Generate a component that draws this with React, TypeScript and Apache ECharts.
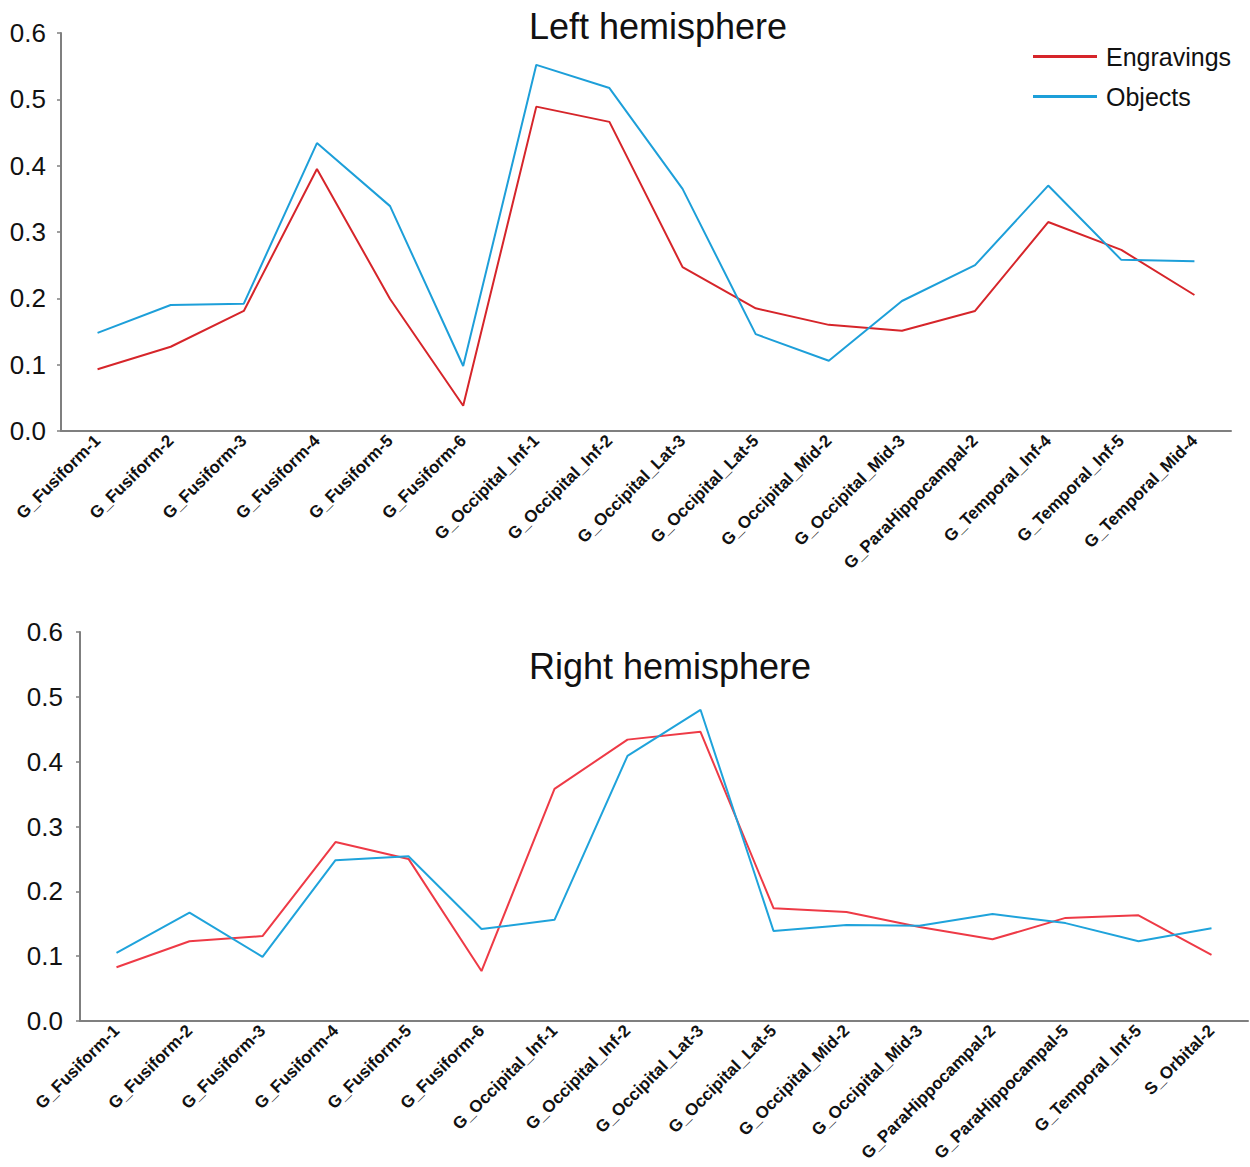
import React, { useEffect, useRef } from "react";
import * as echarts from "echarts";

const leftCategories = [
  "G_Fusiform-1", "G_Fusiform-2", "G_Fusiform-3", "G_Fusiform-4", "G_Fusiform-5", "G_Fusiform-6",
  "G_Occipital_Inf-1", "G_Occipital_Inf-2", "G_Occipital_Lat-3", "G_Occipital_Lat-5",
  "G_Occipital_Mid-2", "G_Occipital_Mid-3", "G_ParaHippocampal-2", "G_Temporal_Inf-4",
  "G_Temporal_Inf-5", "G_Temporal_Mid-4",
];
const leftEngravings = [0.093, 0.127, 0.181, 0.395, 0.199, 0.038, 0.489, 0.466, 0.247, 0.185, 0.16, 0.151, 0.181, 0.315, 0.273, 0.205];
const leftObjects = [0.148, 0.19, 0.192, 0.434, 0.339, 0.098, 0.552, 0.517, 0.365, 0.146, 0.106, 0.196, 0.25, 0.37, 0.258, 0.256];

const rightCategories = [
  "G_Fusiform-1", "G_Fusiform-2", "G_Fusiform-3", "G_Fusiform-4", "G_Fusiform-5", "G_Fusiform-6",
  "G_Occipital_Inf-1", "G_Occipital_Inf-2", "G_Occipital_Lat-3", "G_Occipital_Lat-5",
  "G_Occipital_Mid-2", "G_Occipital_Mid-3", "G_ParaHippocampal-2", "G_ParaHippocampal-5",
  "G_Temporal_Inf-5", "S_Orbital-2",
];
const rightEngravings = [0.083, 0.123, 0.131, 0.276, 0.25, 0.077, 0.358, 0.434, 0.446, 0.174, 0.168, 0.145, 0.126, 0.159, 0.163, 0.102];
const rightObjects = [0.105, 0.167, 0.099, 0.248, 0.254, 0.142, 0.156, 0.409, 0.48, 0.139, 0.148, 0.147, 0.165, 0.151, 0.123, 0.143];

const FONT = "'Liberation Sans', Arial, sans-serif";
const RED_TOP = "#d6252a";
const BLUE_TOP = "#1d9fd9";
const RED_BOTTOM = "#ee3a46";
const BLUE_BOTTOM = "#1fa3db";

function xAxis(gridIndex: number, data: string[]) {
  return {
    type: "category",
    gridIndex,
    data,
    boundaryGap: true,
    axisLine: { show: true, lineStyle: { color: "#7f7f7f", width: 2 } },
    axisTick: { show: false },
    splitLine: { show: false },
    axisLabel: {
      interval: 0,
      rotate: 45,
      margin: 7,
      fontSize: 17,
      fontWeight: "bold",
      color: "#111",
      fontFamily: FONT,
    },
  };
}

function yAxis(gridIndex: number, margin: number) {
  return {
    type: "value",
    gridIndex,
    min: 0,
    max: 0.6,
    interval: 0.1,
    axisLine: { show: true, lineStyle: { color: "#7f7f7f", width: 2 } },
    axisTick: { show: true, length: 4, lineStyle: { color: "#7f7f7f", width: 1.5 } },
    splitLine: { show: false },
    axisLabel: {
      margin,
      fontSize: 26,
      color: "#111",
      fontFamily: FONT,
      formatter: (v: number) => v.toFixed(1),
    },
  };
}

export default function App() {
  const ref = useRef<HTMLDivElement>(null);
  useEffect(() => {
    if (!ref.current) return;
    const chart = echarts.init(ref.current, undefined, { renderer: "svg" });
    chart.setOption({
      animation: false,
      backgroundColor: "#ffffff",
      textStyle: { fontFamily: FONT },
      grid: [
        { left: 61, top: 33, width: 1170, height: 398, containLabel: false },
        { left: 80, top: 632, width: 1168, height: 389, containLabel: false },
      ],
      xAxis: [xAxis(0, leftCategories), xAxis(1, rightCategories)],
      yAxis: [yAxis(0, 15), yAxis(1, 17)],
      legend: {
        data: ["Engravings", "Objects"],
        orient: "vertical",
        left: 1033,
        top: 44,
        padding: 0,
        icon: "rect",
        itemWidth: 64,
        itemHeight: 3,
        itemGap: 15,
        textStyle: { fontSize: 25, color: "#111", fontFamily: FONT, padding: [0, 0, 0, 4] },
      },
      graphic: [
        {
          type: "text",
          x: 658,
          y: 26,
          style: { text: "Left hemisphere", fontSize: 36, fontFamily: FONT, fill: "#111", textAlign: "center", textVerticalAlign: "middle" },
        },
        {
          type: "text",
          x: 670,
          y: 666,
          style: { text: "Right hemisphere", fontSize: 36, fontFamily: FONT, fill: "#111", textAlign: "center", textVerticalAlign: "middle" },
        },
      ],
      series: [
        {
          name: "Engravings", type: "line", xAxisIndex: 0, yAxisIndex: 0, data: leftEngravings,
          symbol: "none", showSymbol: false, color: RED_TOP, lineStyle: { color: RED_TOP, width: 2 },
        },
        {
          name: "Objects", type: "line", xAxisIndex: 0, yAxisIndex: 0, data: leftObjects,
          symbol: "none", showSymbol: false, color: BLUE_TOP, lineStyle: { color: BLUE_TOP, width: 2 },
        },
        {
          name: "Engravings", type: "line", xAxisIndex: 1, yAxisIndex: 1, data: rightEngravings,
          symbol: "none", showSymbol: false, color: RED_BOTTOM, lineStyle: { color: RED_BOTTOM, width: 2 },
        },
        {
          name: "Objects", type: "line", xAxisIndex: 1, yAxisIndex: 1, data: rightObjects,
          symbol: "none", showSymbol: false, color: BLUE_BOTTOM, lineStyle: { color: BLUE_BOTTOM, width: 2 },
        },
      ],
    });
    return () => chart.dispose();
  }, []);
  return (
    <div
      ref={ref}
      style={{ position: "absolute", left: 0, top: 0, width: 1250, height: 1167, background: "#fff" }}
    />
  );
}
